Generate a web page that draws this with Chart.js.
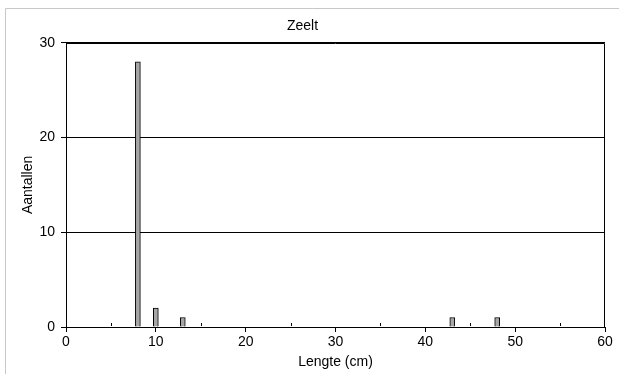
<!DOCTYPE html>
<html>
<head>
<meta charset="utf-8">
<script src="https://cdn.jsdelivr.net/npm/chart.js@4"></script>
<style>
  html, body { margin: 0; padding: 0; background: #fff; }
  #wrap { width: 619px; height: 374px; }
</style>
</head>
<body>
<div id="wrap"><canvas id="chart" width="619" height="374"></canvas></div>
<script>
// Zeelt - lengte-frequentie
const lengths = [8, 10, 13, 43, 48];
const counts = [28, 2, 1, 1, 1];
const minorTicks = [5, 15, 25, 35, 45, 55];

const FONT = "'Liberation Sans', Arial, sans-serif";

// outer frame, plot box and minor ticks
const framePlugin = {
    id: 'frame',
    beforeDraw(chart) {
        const c = chart.ctx;
        c.save();
        c.strokeStyle = '#c8c8c8';
        c.lineWidth = 1;
        c.beginPath();
        c.moveTo(5.5, 374);
        c.lineTo(5.5, 8.5);
        c.lineTo(619, 8.5);
        c.stroke();
        c.restore();
    },
    afterDatasetsDraw(chart) {
        const c = chart.ctx;
        const a = chart.chartArea;
        const x = chart.scales.x;
        c.save();
        c.strokeStyle = '#000';
        c.lineWidth = 1;
        c.beginPath();
        c.moveTo(Math.round(a.left) + 0.5, Math.round(a.top) + 0.5);
        c.lineTo(Math.round(a.right) - 0.5, Math.round(a.top) + 0.5);
        c.lineTo(Math.round(a.right) - 0.5, Math.round(a.bottom));
        c.stroke();
        c.beginPath();
        minorTicks.forEach(v => {
            const px = Math.round(x.getPixelForValue(v)) + 0.5;
            c.moveTo(px, a.bottom - 1);
            c.lineTo(px, a.bottom - 4);
        });
        c.stroke();
        c.restore();
    }
};

new Chart(document.getElementById('chart').getContext('2d'), {
    type: 'bar',
    data: {
        datasets: [{
            data: lengths.map((l, i) => ({ x: l, y: counts[i] })),
            backgroundColor: '#a6a6a6',
            borderColor: '#000',
            borderWidth: 1,
            barThickness: 5
        }]
    },
    options: {
        responsive: false,
        animation: false,
        layout: { padding: { left: 0, right: 14, top: 0, bottom: 0 } },
        plugins: {
            legend: { display: false },
            tooltip: { enabled: false },
            title: {
                display: true,
                text: 'Zeelt',
                color: '#000',
                font: { family: FONT, size: 14, weight: 'normal', lineHeight: 1.2 },
                padding: { top: 18, bottom: 8 }
            }
        },
        scales: {
            x: {
                type: 'linear',
                min: 0,
                max: 60,
                offset: false,
                ticks: {
                    stepSize: 10,
                    color: '#000',
                    padding: 2,
                    font: { family: FONT, size: 14 }
                },
                grid: { offset: false, drawOnChartArea: false, drawTicks: true, tickLength: 5, color: '#000' },
                border: { display: true, color: '#000', width: 1 },
                title: {
                    display: true,
                    text: 'Lengte (cm)',
                    color: '#000',
                    font: { family: FONT, size: 14 },
                    padding: { top: 0, bottom: 3 }
                },
                afterFit(s) { s.height = 47; }
            },
            y: {
                min: 0,
                max: 30,
                ticks: {
                    stepSize: 10,
                    color: '#000',
                    padding: 6,
                    font: { family: FONT, size: 14 }
                },
                grid: { color: '#000', tickLength: 5, drawTicks: true },
                border: { display: true, color: '#000', width: 1 },
                title: {
                    display: true,
                    text: 'Aantallen',
                    color: '#000',
                    font: { family: FONT, size: 14 },
                    padding: { top: 20, bottom: 0 }
                },
                afterFit(s) { s.width = 66; }
            }
        }
    },
    plugins: [framePlugin]
});
</script>
</body>
</html>
